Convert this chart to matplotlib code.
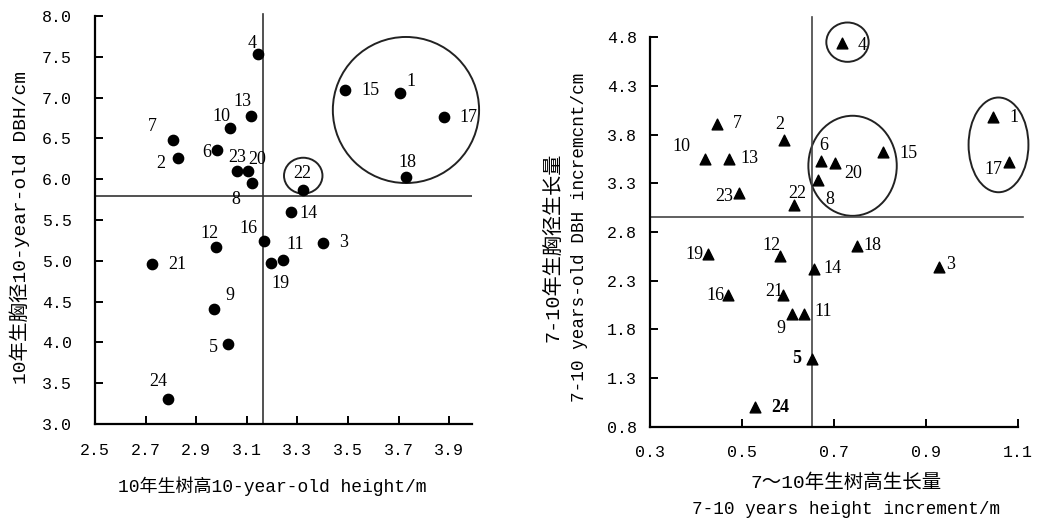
import matplotlib
matplotlib.use("Agg")
import matplotlib.pyplot as plt
from matplotlib.patches import Ellipse
import numpy as np

# tree ids 1..24
ids = list(range(1, 25))

# left panel: 10-year-old height (m) vs 10-year-old DBH (cm)
height10 = [3.706, 2.829, 3.400, 3.143, 3.027, 2.983, 2.807, 3.119, 2.972, 3.035, 3.242, 2.978,
            3.115, 3.275, 3.488, 3.167, 3.881, 3.728, 3.194, 3.105, 2.724, 3.321, 3.061, 2.790]
dbh10 = [7.06, 6.26, 5.22, 7.53, 3.98, 6.36, 6.48, 5.95, 4.41, 6.63, 5.01, 5.17,
         6.78, 5.60, 7.09, 5.24, 6.76, 6.03, 4.97, 6.10, 4.96, 5.87, 6.10, 3.31]
height_mean = 3.164
dbh_mean = 5.79

# right panel: 7-10 year height increment (m) vs DBH increment (cm)
h_incr = [1.045, 0.591, 0.928, 0.717, 0.651, 0.671, 0.445, 0.665, 0.609, 0.420, 0.634, 0.583,
          0.472, 0.656, 0.807, 0.470, 1.080, 0.749, 0.425, 0.702, 0.588, 0.613, 0.493, 0.528]
d_incr = [3.98, 3.75, 2.44, 4.74, 1.50, 3.53, 3.91, 3.33, 1.96, 3.55, 1.96, 2.55,
          3.55, 2.42, 3.62, 2.15, 3.52, 2.66, 2.57, 3.51, 2.15, 3.08, 3.20, 1.00]
h_incr_mean = 0.651
d_incr_mean = 2.955

left_xticks = [2.5, 2.7, 2.9, 3.1, 3.3, 3.5, 3.7, 3.9]
left_yticks = [3.0, 3.5, 4.0, 4.5, 5.0, 5.5, 6.0, 6.5, 7.0, 7.5, 8.0]
right_xticks = [0.3, 0.5, 0.7, 0.9, 1.1]
right_yticks = [0.8, 1.3, 1.8, 2.3, 2.8, 3.3, 3.8, 4.3, 4.8]

# highlighted groups (center x, center y, width, height) in data units
left_groups = [(3.729, 6.848, 0.578, 1.79), (3.323, 6.043, 0.152, 0.44)]
right_groups = [(0.729, 4.75, 0.092, 0.404), (0.740, 3.48, 0.192, 1.028), (1.057, 3.695, 0.130, 0.973)]

# label offsets in pixels (dx right, dy up)
left_off = {1: (11, 11), 2: (-17.6, -6), 3: (20.6, 0), 4: (-6, 11.3), 5: (-15, -3.7), 6: (-10.6, -2.3),
            7: (-20.4, 13.3), 8: (-16, -16.3), 9: (15, 13), 10: (-8.6, 11.3), 11: (12.3, 15), 12: (-6.7, 13.4),
            13: (-8, 13.6), 14: (17.3, -2), 15: (25.7, 0), 16: (-15.4, 12.7), 17: (24, 0), 18: (1.6, 14.4),
            19: (10, -20), 20: (8.7, 11.3), 21: (25.6, 0), 22: (0, 16.4), 23: (0, 13.6), 24: (-10, 17)}
right_off = {1: (20.6, 0), 2: (-4.7, 15), 3: (12, 2.7), 4: (20, -2.7), 5: (-14.6, 0), 6: (3.3, 15.7),
             7: (20.6, 0), 8: (11.6, -19), 9: (-11.6, -14.3), 10: (-24, 12), 11: (19, 2.3), 12: (-9.3, 11),
             13: (20, 0), 14: (19, 0), 15: (25, -1.3), 16: (-12.3, 0), 17: (-15.4, -7.6), 18: (16, 0),
             19: (-12.7, 0), 20: (17.7, -10.6), 21: (-8.3, 4), 22: (2.7, 11.7), 23: (-14.7, -3.3), 24: (25.7, 0)}
bold_right = {5, 24}

MONO = ["Liberation Mono", "Noto Sans CJK SC"]
SERIF = ["Liberation Serif", "DejaVu Serif"]
W, H = 1050, 520

fig = plt.figure(figsize=(10.5, 5.2), dpi=100)


def style_axes(ax, xticks, yticks, xpad, ypad):
    for s in ["top", "right"]:
        ax.spines[s].set_visible(False)
    for s in ["left", "bottom"]:
        ax.spines[s].set_linewidth(1.6)
    ax.set_xticks(xticks)
    ax.set_yticks(yticks)
    ax.set_xticklabels([f"{v:.1f}" for v in xticks], family=MONO, fontsize=12)
    ax.set_yticklabels([f"{v:.1f}" for v in yticks], family=MONO, fontsize=12)
    ax.tick_params(axis="x", direction="in", length=6, width=1.4, pad=xpad)
    ax.tick_params(axis="y", direction="in", length=6, width=1.4, pad=ypad)


def label_points(ax, xs, ys, offsets, bold=()):
    for i, x, y in zip(ids, xs, ys):
        dx, dy = offsets[i]
        ax.annotate(str(i), (x, y), xytext=(dx * 0.72, dy * 0.72), textcoords="offset points",
                    ha="center", va="center", fontsize=13, family=SERIF,
                    fontweight="bold" if i in bold else "normal")


# left panel
ax1 = fig.add_axes([95 / W, 1 - 424 / H, 377 / W, 408 / H])
ax1.scatter(height10, dbh10, s=55, color="black", zorder=3)
ax1.set_xlim(2.5, 3.99)
ax1.set_ylim(3.0, 8.0)
style_axes(ax1, left_xticks, left_yticks, 13.5, 16.5)
ax1.axvline(height_mean, ymin=0, ymax=1.005, color="#333333", lw=1.2, clip_on=False)
ax1.axhline(dbh_mean, color="#333333", lw=1.2)
for cx, cy, w, h in left_groups:
    ax1.add_patch(Ellipse((cx, cy), w, h, fill=False, lw=1.4, ec="#222222", clip_on=False))
label_points(ax1, height10, dbh10, left_off)

# right panel
ax2 = fig.add_axes([650 / W, 1 - 426.7 / H, 368.3 / W, 389.4 / H])
ax2.scatter(h_incr, d_incr, s=60, marker="^", color="black", zorder=3)
ax2.set_xlim(0.3, 1.1)
ax2.set_ylim(0.8, 4.8)
style_axes(ax2, right_xticks, right_yticks, 13, 9.5)
ax2.axvline(h_incr_mean, ymin=0, ymax=1.053, color="#444444", lw=1.2, clip_on=False)
ax2.plot([0.3, 1.111], [d_incr_mean, d_incr_mean], color="#444444", lw=1.2, clip_on=False)
for cx, cy, w, h in right_groups:
    ax2.add_patch(Ellipse((cx, cy), w, h, fill=False, lw=1.4, ec="#222222", clip_on=False))
label_points(ax2, h_incr, d_incr, right_off, bold_right)

# axis titles
fig.text(272.5 / W, 1 - 486.7 / H, "10年生树高10-year-old height/m", family=MONO, fontsize=13,
         ha="center", va="center")
fig.text(20 / W, 1 - 228 / H, "10年生胸径10-year-old DBH/cm", family=MONO, fontsize=14,
         ha="center", va="center", rotation=90)
fig.text(846 / W, 1 - 483 / H, "7～10年生树高生长量", family=MONO, fontsize=14,
         ha="center", va="center")
fig.text(846.5 / W, 1 - 509 / H, "7-10 years height increment/m", family=MONO, fontsize=12.7,
         ha="center", va="center")
fig.text(553 / W, 1 - 247.5 / H, "7-10年生胸径生长量", family=MONO, fontsize=14.5,
         ha="center", va="center", rotation=90)
fig.text(580 / W, 1 - 237.5 / H, "7-10 years-old DBH incremcnt/cm", family=MONO, fontsize=12.7,
         ha="center", va="center", rotation=90)

fig.savefig("out.png", dpi=100)
